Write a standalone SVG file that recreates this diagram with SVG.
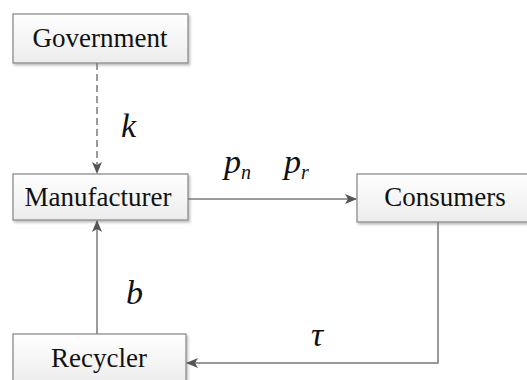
<svg xmlns="http://www.w3.org/2000/svg" width="527" height="380" viewBox="0 0 527 380">
<defs>
<linearGradient id="g" x1="0" y1="0" x2="0" y2="1"><stop offset="0" stop-color="#ffffff"/><stop offset="1" stop-color="#ececec"/></linearGradient>
<filter id="sh" x="-10%" y="-10%" width="130%" height="140%"><feDropShadow dx="1.5" dy="2" stdDeviation="1.2" flood-color="#000" flood-opacity="0.25"/></filter>
<marker id="ar" markerWidth="12" markerHeight="10" refX="11" refY="5" orient="auto" markerUnits="userSpaceOnUse"><path d="M0,0 L12,5 L0,10 L3,5 Z" fill="#555"/></marker>
</defs>
<style>
.box{fill:url(#g);stroke:#8c8c8c;stroke-width:1.3;filter:url(#sh)}
text{font-family:"Liberation Serif","Times New Roman",Times,"Noto Serif","DejaVu Serif",Tinos,FreeSerif,serif;fill:#111}
.t{font-size:27px;text-anchor:middle}
.m{font-style:italic;font-size:34px}
.s{font-size:20px}
.c{fill:none;stroke:#7a7a7a;stroke-width:1.5}
</style>
<g id="government"><rect class="box" x="13" y="14" width="175" height="49"/><text class="t" x="100" y="47">Government</text></g>
<g id="manufacturer"><rect class="box" x="13" y="174" width="175" height="46"/><text class="t" x="98" y="206">Manufacturer</text></g>
<g id="consumers"><rect class="box" x="357" y="174" width="175" height="48"/><text class="t" x="445" y="206">Consumers</text></g>
<g id="recycler"><rect class="box" x="13" y="334" width="173" height="52"/><text class="t" x="99" y="367">Recycler</text></g>
<g id="connectors">
<path class="c" d="M97,63 V173" stroke-dasharray="7,4" marker-end="url(#ar)"/>
<path class="c" d="M97,334 V221" marker-end="url(#ar)"/>
<path class="c" d="M188,199 H356" marker-end="url(#ar)"/>
<path class="c" d="M438,222 V363 H187" marker-end="url(#ar)"/>
</g>
<g id="labels">
<text class="m" x="121" y="137">k</text>
<text class="m" x="224" y="173">p<tspan class="s" dy="6">n</tspan></text>
<text class="m" x="284" y="173">p<tspan class="s" dy="6">r</tspan></text>
<text class="m" x="126" y="304">b</text>
<text class="m" x="311" y="346">τ</text>
</g>
</svg>
